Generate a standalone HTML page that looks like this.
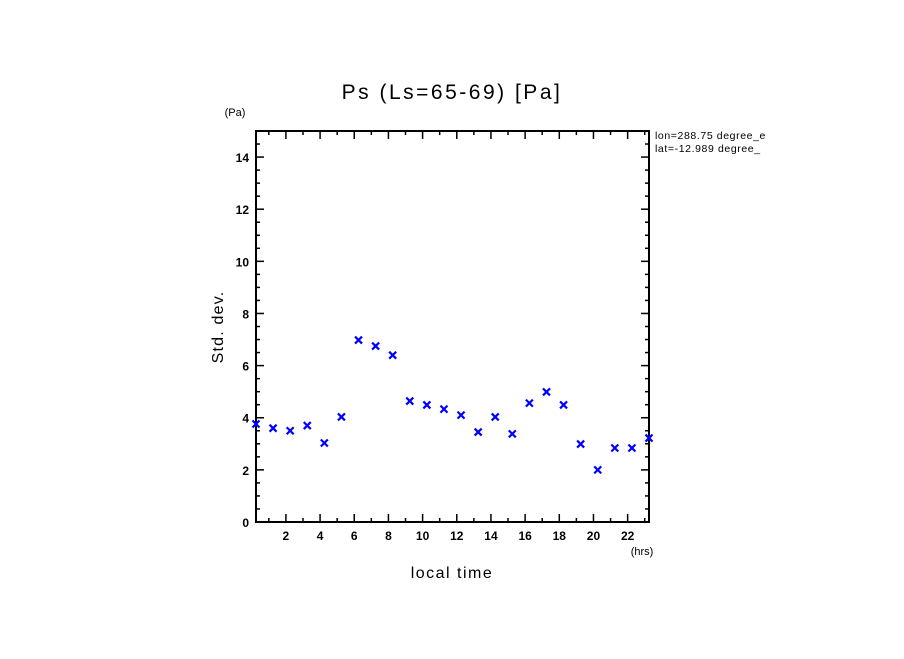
<!DOCTYPE html>
<html><head><meta charset="utf-8"><style>
body{margin:0;background:#fff}
svg text{font-family:"Liberation Sans",sans-serif;fill:#000}
</style></head><body>
<svg id="chart" width="904" height="654" xmlns="http://www.w3.org/2000/svg">
<text x="452" y="99" font-size="21" letter-spacing="2.5" text-anchor="middle">Ps (Ls=65-69) [Pa]</text>
<text x="235" y="116" font-size="11" text-anchor="middle">(Pa)</text>
<text x="642" y="555" font-size="11" text-anchor="middle">(hrs)</text>
<text x="452" y="578" font-size="16" letter-spacing="1.5" text-anchor="middle">local time</text>
<text x="223" y="327" font-size="16" letter-spacing="1.2" text-anchor="middle" transform="rotate(-90 223 327)">Std. dev.</text>
<text x="655" y="139" font-size="10.5" letter-spacing="0.6">lon=288.75 degree_e</text>
<text x="655" y="152" font-size="10.5" letter-spacing="0.6">lat=-12.989 degree_</text>
<rect x="780" y="125" width="124" height="40" fill="#fff"/>
<g id="axes"></g>
<g id="marks"></g>
</svg>
<script>
const hours=[0.25,1.25,2.25,3.25,4.25,5.25,6.25,7.25,8.25,9.25,10.25,11.25,12.25,13.25,14.25,15.25,16.25,17.25,18.25,19.25,20.25,21.25,22.25,23.25];
const stdDev=[3.76,3.6,3.5,3.7,3.03,4.03,6.98,6.75,6.4,4.64,4.49,4.33,4.1,3.45,4.03,3.38,4.56,4.99,4.49,2.99,2.0,2.84,2.84,3.22];
const xTickLabels=[2,4,6,8,10,12,14,16,18,20,22];
const yTickLabels=[0,2,4,6,8,10,12,14];
const L=256,R=649,T=131,B=522,X0=0.25,X1=23.25,Y0=0,Y1=15;
const sx=v=>L+(v-X0)/(X1-X0)*(R-L);
const sy=v=>B-(v-Y0)/(Y1-Y0)*(B-T);
const NS="http://www.w3.org/2000/svg";
const ax=document.getElementById('axes'),mk=document.getElementById('marks');
function mkEl(tag,attrs,parent){const e=document.createElementNS(NS,tag);for(const k in attrs)e.setAttribute(k,attrs[k]);parent.appendChild(e);return e;}
const fr=mkEl('rect',{x:L,y:T,width:R-L,height:B-T,fill:'none',stroke:'#000','stroke-width':2},ax);


for(let h=1;h<=23;h++){const x=sx(h),len=h%2===0?8:4;
 const t1=mkEl('line',{x1:x,y1:B,x2:x,y2:B-len,stroke:'#000','stroke-width':1.5},ax);
 
 
 const t2=mkEl('line',{x1:x,y1:T,x2:x,y2:T+len,stroke:'#000','stroke-width':1.5},ax);
 
 }
xTickLabels.forEach(v=>{const t=mkEl('text',{x:sx(v),y:B+18,'font-size':12,'font-weight':'bold','text-anchor':'middle'},ax);t.textContent=v;
 
 });
for(let v=0.5;v<15;v+=0.5){const y=sy(v),len=(v%2===0)?8:4;
 const t1=mkEl('line',{x1:L,y1:y,x2:L+len,y2:y,stroke:'#000','stroke-width':1.5},ax);
 
 
 const t2=mkEl('line',{x1:R,y1:y,x2:R-len,y2:y,stroke:'#000','stroke-width':1.5},ax);
 
 }
yTickLabels.forEach(v=>{const t=mkEl('text',{x:L-7,y:sy(v)+5,'font-size':12,'font-weight':'bold','text-anchor':'end'},ax);t.textContent=v;
 
 });
hours.forEach((h,i)=>{const x=sx(h),y=sy(stdDev[i]),d=3.5;
 const g=mkEl('path',{d:`M${x-d},${y-d}L${x+d},${y+d}M${x-d},${y+d}L${x+d},${y-d}`,stroke:'#0000ff','stroke-width':2.2,fill:'none'},mk);
 
 });
</script>
</body></html>
